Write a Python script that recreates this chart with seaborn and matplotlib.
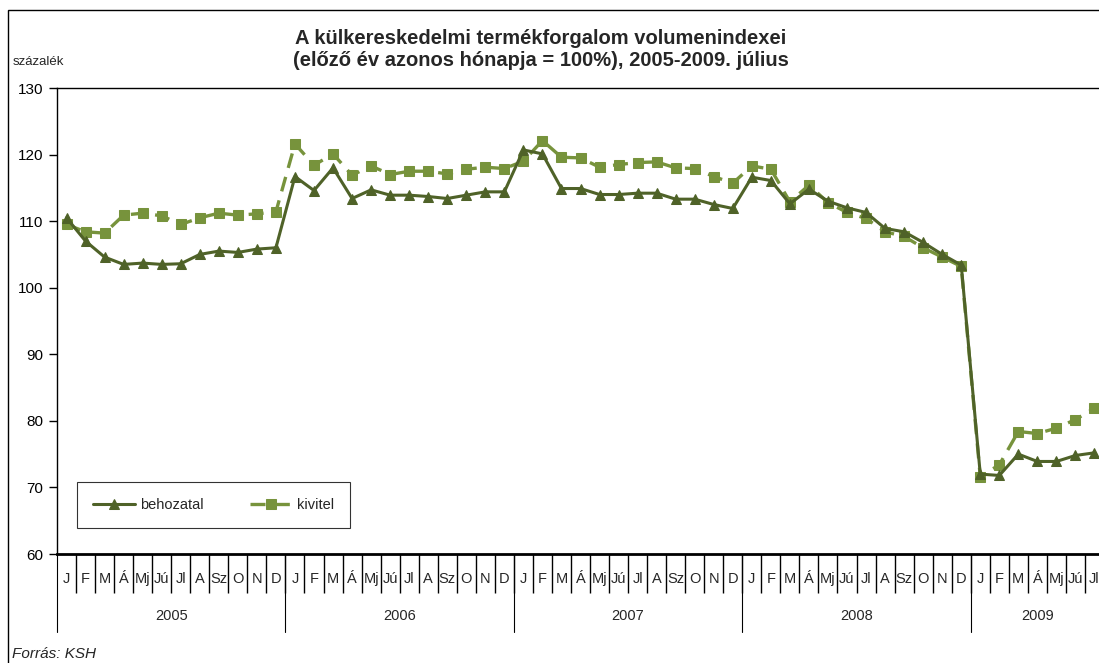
import matplotlib
matplotlib.use('Agg')
import matplotlib.pyplot as plt
import seaborn as sns
import pandas as pd
from matplotlib.patches import Rectangle

# havi címkék és évek
honapok = ['J', 'F', 'M', 'Á', 'Mj', 'Jú', 'Jl', 'A', 'Sz', 'O', 'N', 'D']
evek = ['2005', '2006', '2007', '2008', '2009']
honapok_2009 = 7

behozatal = [
    110.5, 107.0, 104.6, 103.5, 103.7, 103.5, 103.6, 105.0, 105.5, 105.3, 105.8, 106.0,
    116.7, 114.6, 118.0, 113.4, 114.7, 113.9, 113.9, 113.7, 113.4, 113.9, 114.4, 114.4,
    120.7, 120.1, 114.9, 114.9, 114.0, 114.0, 114.2, 114.2, 113.3, 113.3, 112.5, 111.9,
    116.6, 116.1, 112.6, 114.8, 113.0, 112.0, 111.3, 108.9, 108.4, 106.8, 105.0, 103.4,
    72.0, 71.8, 75.0, 73.9, 73.9, 74.8, 75.2,
]
kivitel = [
    109.5, 108.4, 108.2, 110.9, 111.2, 110.8, 109.5, 110.5, 111.2, 110.9, 111.1, 111.4,
    121.6, 118.4, 120.1, 116.9, 118.3, 117.0, 117.5, 117.5, 117.1, 117.8, 118.1, 117.9,
    119.0, 122.1, 119.6, 119.5, 118.1, 118.5, 118.8, 118.9, 118.0, 117.9, 116.7, 115.7,
    118.3, 117.8, 112.9, 115.4, 112.8, 111.3, 110.4, 108.4, 107.7, 106.0, 104.6, 103.2,
    71.6, 73.4, 78.4, 78.1, 78.9, 80.2, 81.9,
]

n = len(behozatal)
df = pd.DataFrame({'ho': range(n), 'behozatal': behozatal, 'kivitel': kivitel})

sns.set_style('white')
plt.rcParams['font.family'] = ['Liberation Sans', 'DejaVu Sans']

sotet = '#4F6228'
vilagos = '#77933C'

fig = plt.figure(figsize=(10.99, 6.63), dpi=100)
ax = fig.add_axes([57 / 1099, 1 - 554 / 663, 1047 / 1099, 466 / 663])

sns.lineplot(data=df, x='ho', y='kivitel', ax=ax, color=vilagos, lw=2.4,
             marker='s', markersize=6.5, markeredgecolor=vilagos, zorder=3)
ki_vonal = ax.lines[-1]
ki_vonal.set_dashes((4.5, 2.8))
sns.lineplot(data=df, x='ho', y='behozatal', ax=ax, color=sotet, lw=2.2,
             marker='^', markersize=7.5, markeredgecolor=sotet, zorder=4)
be_vonal = ax.lines[-1]

ax.set_xlim(-0.5, n - 0.5)
ax.set_ylim(60, 130)
ax.set_yticks(range(60, 131, 10))
ax.set_xlabel('')
ax.set_ylabel('')
ax.tick_params(axis='y', length=6, width=1, direction='out', labelsize=11, pad=4, colors='black', left=True)

for s in ['top', 'left']:
    ax.spines[s].set_color('black')
    ax.spines[s].set_linewidth(1)
ax.spines['right'].set_visible(False)
ax.spines['bottom'].set_color('black')
ax.spines['bottom'].set_linewidth(2)

# hónap címkék és elválasztók
ax.set_xticks(range(n))
ax.set_xticklabels([honapok[i % 12] for i in range(n)], fontsize=10.5)
ax.tick_params(axis='x', which='major', length=0, pad=13, bottom=True)
ax.set_xticks([i - 0.5 for i in range(1, n + 1)], minor=True)
ax.tick_params(axis='x', which='minor', length=28, width=1, color='black',
               direction='out', bottom=True)

trans = ax.get_xaxis_transform()
for k in range(len(evek)):
    xv = k * 12 - 0.5
    ax.plot([xv, xv], [0, -78 / 466], transform=trans, color='black', lw=0.8, clip_on=False)
for k, ev in enumerate(evek):
    hossz = 12 if k < len(evek) - 1 else honapok_2009
    ax.text(k * 12 + (hossz - 1) / 2, -62 / 466, ev, transform=trans,
            ha='center', va='center', fontsize=10.5)

leg = ax.legend(handles=[be_vonal, ki_vonal], labels=['behozatal', 'kivitel'],
                bbox_to_anchor=(20 / 1047, 26 / 466, 273 / 1047, 46 / 466), mode='expand',
                loc='center', ncol=2, frameon=True, fancybox=False, fontsize=10.5,
                handlelength=2.9, handletextpad=0.3, borderaxespad=0, columnspacing=1.0,
                borderpad=1.1)
leg.get_frame().set_edgecolor('black')
leg.get_frame().set_linewidth(0.8)

fig.text(541 / 1099, 1 - 38 / 663, 'A külkereskedelmi termékforgalom volumenindexei',
         ha='center', va='center', fontsize=14.5, fontweight='bold')
fig.text(541 / 1099, 1 - 60 / 663, '(előző év azonos hónapja = 100%), 2005-2009. július',
         ha='center', va='center', fontsize=14.5, fontweight='bold')
fig.text(13 / 1099, 1 - 62 / 663, 'százalék', ha='left', va='center', fontsize=9.5)
fig.text(12 / 1099, 1 - 654 / 663, 'Forrás: KSH', ha='left', va='center', fontsize=11, style='italic')

fig.patches.append(Rectangle((8 / 1099, -0.1), 1.2, 1 - 10 / 663 + 0.1, transform=fig.transFigure,
                             fill=False, edgecolor='black', lw=1))

fig.savefig('out.png', dpi=100)
